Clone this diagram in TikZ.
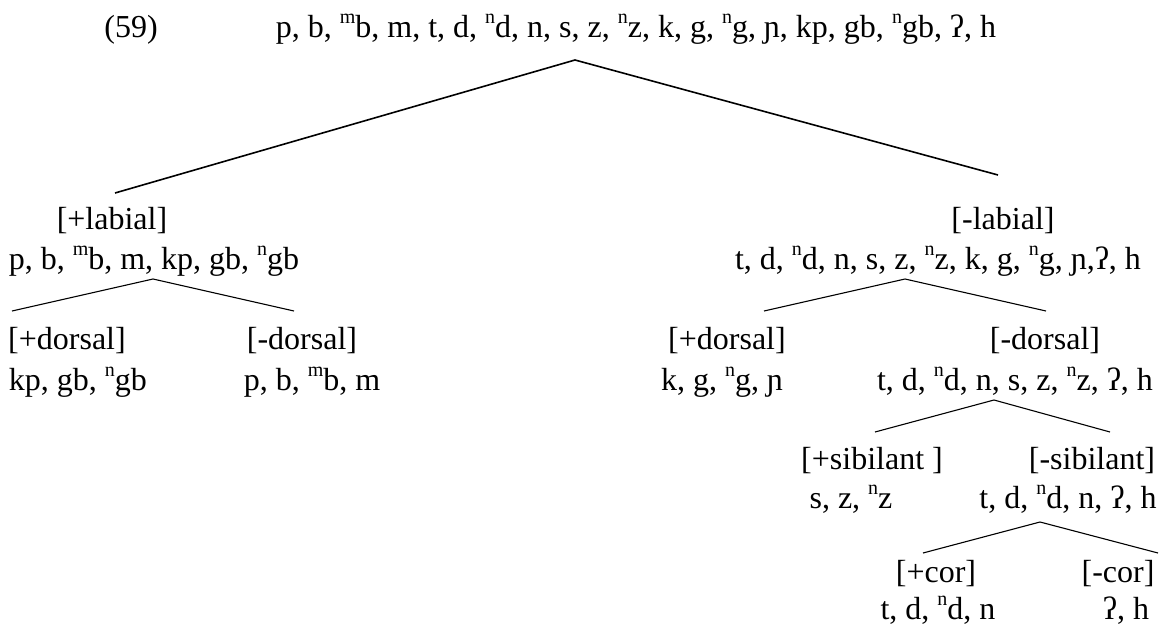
\documentclass[tikz,border=0pt]{standalone}
\usepackage{fontspec}
\setmainfont{Liberation Serif}
\newcommand{\sps}[1]{\raisebox{0.42em}{\fontsize{20}{20}\selectfont #1}}
\begin{document}
\begin{tikzpicture}[x=1pt,y=-1pt,
  txt/.style={anchor=base, inner sep=0pt, font=\fontsize{32}{38}\selectfont},
  br/.style={line width=1.1pt},
  topbr/.style={line width=1.6pt}]
\useasboundingbox (0,0) rectangle (1161,632);
% row 1
\node[txt] (ex) at (131,37) {(59)};
\node[txt] (all) at (636,37) {p, b, \sps{m}b, m, t, d, \sps{n}d, n, s, z, \sps{n}z, k, g, \sps{n}g, ɲ, kp, gb, \sps{n}gb, ʔ, h};
% row 2/3
\node[txt] (lab) at (112,229) {[+labial]};
\node[txt] (labl) at (154,269) {p, b, \sps{m}b, m, kp, gb, \sps{n}gb};
\node[txt] (nlab) at (1003,229) {[-labial]};
\node[txt] (nlabl) at (938,269) {t, d, \sps{n}d, n, s, z, \sps{n}z, k, g, \sps{n}g, ɲ,ʔ, h};
% row 4/5
\node[txt] (dor1) at (67,349.5) {[+dorsal]};
\node[txt] (dor1l) at (78,390) {kp, gb, \sps{n}gb};
\node[txt] (ndor1) at (302,349.5) {[-dorsal]};
\node[txt] (ndor1l) at (312,390) {p, b, \sps{m}b, m};
\node[txt] (dor2) at (727,349.5) {[+dorsal]};
\node[txt] (dor2l) at (722,390) {k, g, \sps{n}g, ɲ};
\node[txt] (ndor2) at (1045,349.5) {[-dorsal]};
\node[txt] (ndor2l) at (1015,390) {t, d, \sps{n}d, n, s, z, \sps{n}z, ʔ, h};
% row 6/7
\node[txt] (sib) at (872,469) {[+sibilant ]};
\node[txt] (sibl) at (851,508) {s, z, \sps{n}z};
\node[txt] (nsib) at (1092,469) {[-sibilant]};
\node[txt] (nsibl) at (1068,508) {t, d, \sps{n}d, n, ʔ, h};
% row 8/9
\node[txt] (cor) at (936,582) {[+cor]};
\node[txt] (corl) at (938,619) {t, d, \sps{n}d, n};
\node[txt] (ncor) at (1118,582) {[-cor]};
\node[txt] (ncorl) at (1126,619) {ʔ, h};
% branches
\coordinate (a0) at (575,60);
\coordinate (a0l) at (115,193);
\coordinate (a0r) at (998,175);
\draw[topbr] (a0l) -- (a0) -- (a0r);
\coordinate (a1) at (153,279);
\coordinate (a1l) at (12,311);
\coordinate (a1r) at (294,311);
\draw[br] (a1l) -- (a1) -- (a1r);
\coordinate (a2) at (905,279);
\coordinate (a2l) at (764,311);
\coordinate (a2r) at (1046,311);
\draw[br] (a2l) -- (a2) -- (a2r);
\coordinate (a3) at (994,400);
\coordinate (a3l) at (875,432);
\coordinate (a3r) at (1110,432);
\draw[br] (a3l) -- (a3) -- (a3r);
\coordinate (a4) at (1040,522);
\coordinate (a4l) at (923,553);
\coordinate (a4r) at (1158,553);
\draw[br] (a4l) -- (a4) -- (a4r);
\end{tikzpicture}
\end{document}
